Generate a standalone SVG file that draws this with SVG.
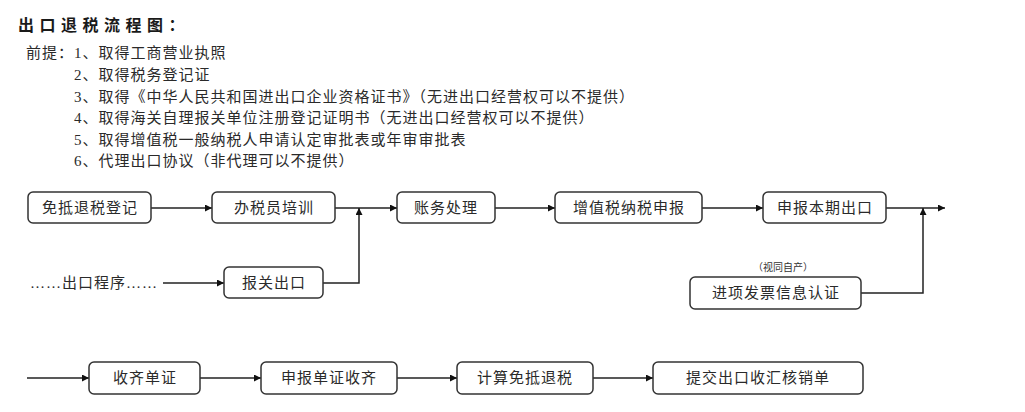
<svg xmlns="http://www.w3.org/2000/svg" width="1025" height="412" viewBox="0 0 1025 412">
<defs>
<style>
.t{font-family:"Liberation Serif","Noto Sans CJK SC",serif;font-size:15px;fill:#2a2a2a;letter-spacing:1px}
.title{font-family:"Noto Sans CJK SC",sans-serif;font-size:16px;font-weight:bold;fill:#1a1a1a;letter-spacing:5.5px}
.box{fill:#fff;stroke:#333;stroke-width:1.5}
.lbl{font-family:"Liberation Serif","Noto Sans CJK SC",serif;font-size:15px;fill:#2a2a2a;text-anchor:middle;letter-spacing:1px}
.small{font-family:"Liberation Serif","Noto Sans CJK SC",serif;font-size:10px;fill:#333;text-anchor:middle}
.c{fill:none;stroke:#222;stroke-width:1.5}
</style>
<marker id="ah" viewBox="0 0 10 10" refX="10" refY="5" markerWidth="9" markerHeight="7" markerUnits="userSpaceOnUse" orient="auto">
<path d="M0,0 L10,5 L0,10 z" fill="#111"/>
</marker>
</defs>
<rect width="1025" height="412" fill="#fff"/>
<g id="header">
<text class="title" x="18" y="31">出口退税流程图：</text>
<text class="t" x="26" y="58">前提：1、取得工商营业执照</text>
<text class="t" x="74" y="80">2、取得税务登记证</text>
<text class="t" x="74" y="102">3、取得《中华人民共和国进出口企业资格证书》（无进出口经营权可以不提供）</text>
<text class="t" x="74" y="123">4、取得海关自理报关单位注册登记证明书（无进出口经营权可以不提供）</text>
<text class="t" x="74" y="145">5、取得增值税一般纳税人申请认定审批表或年审审批表</text>
<text class="t" x="74" y="166">6、代理出口协议（非代理可以不提供）</text>
</g>
<g id="connectors">
<path class="c" d="M151,208 H212" marker-end="url(#ah)"/>
<path class="c" d="M335,208 H397" marker-end="url(#ah)"/>
<path class="c" d="M323,283 H359 V208" marker-end="url(#ah)"/>
<path class="c" d="M163,283 H224" marker-end="url(#ah)"/>
<path class="c" d="M495,208 H555" marker-end="url(#ah)"/>
<path class="c" d="M702,208 H763" marker-end="url(#ah)"/>
<path class="c" d="M886,208 H945" marker-end="url(#ah)"/>
<path class="c" d="M861,293 H923 V208" marker-end="url(#ah)"/>
<path class="c" d="M27,378 H89" marker-end="url(#ah)"/>
<path class="c" d="M200,378 H261" marker-end="url(#ah)"/>
<path class="c" d="M397,378 H457" marker-end="url(#ah)"/>
<path class="c" d="M593,378 H653" marker-end="url(#ah)"/>
</g>
<g id="n1"><rect class="box" x="28" y="192" width="123" height="31" rx="5"/><text class="lbl" x="90" y="213">免抵退税登记</text></g>
<g id="n2"><rect class="box" x="212" y="192" width="123" height="31" rx="5"/><text class="lbl" x="274" y="213">办税员培训</text></g>
<g id="n3"><rect class="box" x="397" y="192" width="98" height="31" rx="5"/><text class="lbl" x="446" y="213">账务处理</text></g>
<g id="n4"><rect class="box" x="555" y="192" width="147" height="31" rx="5"/><text class="lbl" x="629" y="213">增值税纳税申报</text></g>
<g id="n5"><rect class="box" x="763" y="192" width="123" height="31" rx="5"/><text class="lbl" x="825" y="213">申报本期出口</text></g>
<g id="n6"><text class="t" x="30" y="288">……出口程序……</text></g>
<g id="n7"><rect class="box" x="224" y="267" width="99" height="31" rx="5"/><text class="lbl" x="274" y="288">报关出口</text></g>
<g id="n8"><text class="small" x="783" y="271">（视同自产）</text><rect class="box" x="690" y="277" width="171" height="32" rx="5"/><text class="lbl" x="776" y="298">进项发票信息认证</text></g>
<g id="n9"><rect class="box" x="89" y="362" width="111" height="32" rx="5"/><text class="lbl" x="145" y="383">收齐单证</text></g>
<g id="n10"><rect class="box" x="261" y="362" width="136" height="32" rx="5"/><text class="lbl" x="329" y="383">申报单证收齐</text></g>
<g id="n11"><rect class="box" x="457" y="362" width="136" height="32" rx="5"/><text class="lbl" x="525" y="383">计算免抵退税</text></g>
<g id="n12"><rect class="box" x="653" y="362" width="210" height="32" rx="5"/><text class="lbl" x="758" y="383">提交出口收汇核销单</text></g>
</svg>
